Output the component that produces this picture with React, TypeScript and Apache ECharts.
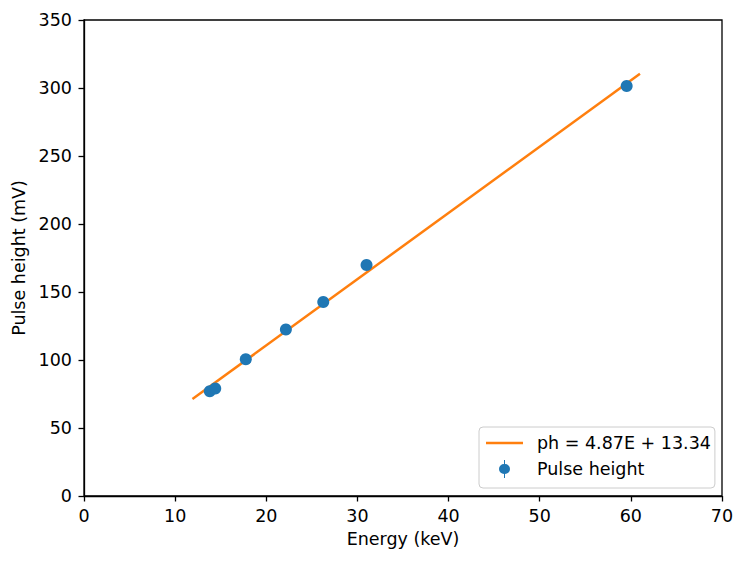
import React, { useEffect, useRef } from "react";
import * as echarts from "echarts";

const energyKeV = [13.8, 14.4, 17.75, 22.15, 26.25, 31.0, 59.54];
const pulseHeightMv = [77.0, 79.0, 100.5, 122.4, 142.6, 169.9, 301.5];
const fitLineX = [11.9, 61.0];
const fitLineY = [71.3, 310.4];
const fitLabel = "ph = 4.87E + 13.34";
const pointLabel = "Pulse height";

const BLUE = "#1f77b4";
const ORANGE = "#ff7f0e";
const FONT = "DejaVu Sans";
const FS = 17.5;

export default function App() {
  const ref = useRef<HTMLDivElement>(null);
  useEffect(() => {
    document.body.style.margin = "0";
    const chart = echarts.init(ref.current!, null, { renderer: "svg" });
    const axisCommon = {
      axisLine: { show: true, onZero: false, lineStyle: { color: "#000", width: 1.3 } },
      axisTick: { show: true, inside: false, length: 5.5, lineStyle: { color: "#000", width: 1.3 } },
      splitLine: { show: false },
      nameTextStyle: { fontFamily: FONT, fontSize: FS, color: "#000" },
    };
    chart.setOption({
      animation: false,
      backgroundColor: "#fff",
      grid: {
        left: 84,
        right: 25,
        top: 20,
        bottom: 67,
        show: true,
        borderColor: "#000",
        borderWidth: 1.3,
        backgroundColor: "transparent",
      },
      xAxis: {
        type: "value",
        min: 0,
        max: 70,
        interval: 10,
        name: "Energy (keV)",
        nameLocation: "middle",
        nameGap: 33,
        ...axisCommon,
        axisLabel: { fontFamily: FONT, fontSize: FS, color: "#000", margin: 11 },
      },
      yAxis: {
        type: "value",
        min: 0,
        max: 350,
        interval: 50,
        name: "Pulse height (mV)",
        nameLocation: "middle",
        nameGap: 55,
        ...axisCommon,
        axisLabel: { fontFamily: FONT, fontSize: FS, color: "#000", margin: 12 },
      },
      legend: {
        orient: "vertical",
        left: 479,
        top: 427,
        padding: [7, 4, 10, 7],
        itemGap: 8,
        itemWidth: 37,
        itemHeight: 18,
        backgroundColor: "rgba(255,255,255,0.8)",
        borderColor: "#cccccc",
        borderWidth: 1,
        borderRadius: 4,
        textStyle: { fontFamily: FONT, fontSize: FS, color: "#000", padding: [0, 0, 0, 9] },
        data: [
          { name: fitLabel, icon: "path://M0,7.8 L37,7.8 L37,10.2 L0,10.2 Z" },
          {
            name: pointLabel,
            icon: "path://M4.6,0 L5.6,0 L5.6,4 A5,5 0 0 1 5.6,14 L5.6,18 L4.6,18 L4.6,14 A5,5 0 0 1 4.6,4 Z",
          },
        ],
      },
      series: [
        {
          name: fitLabel,
          type: "line",
          data: fitLineX.map((x, i) => [x, fitLineY[i]]),
          showSymbol: false,
          symbol: "none",
          lineStyle: { color: ORANGE, width: 2.5 },
          itemStyle: { color: ORANGE },
          z: 2,
        },
        {
          name: pointLabel,
          type: "scatter",
          data: energyKeV.map((x, i) => [x, pulseHeightMv[i]]),
          symbol: "circle",
          symbolSize: 12,
          itemStyle: { color: BLUE, opacity: 1 },
          z: 3,
        },
      ],
    });
    return () => chart.dispose();
  }, []);
  return <div ref={ref} style={{ width: 747, height: 563 }} />;
}
